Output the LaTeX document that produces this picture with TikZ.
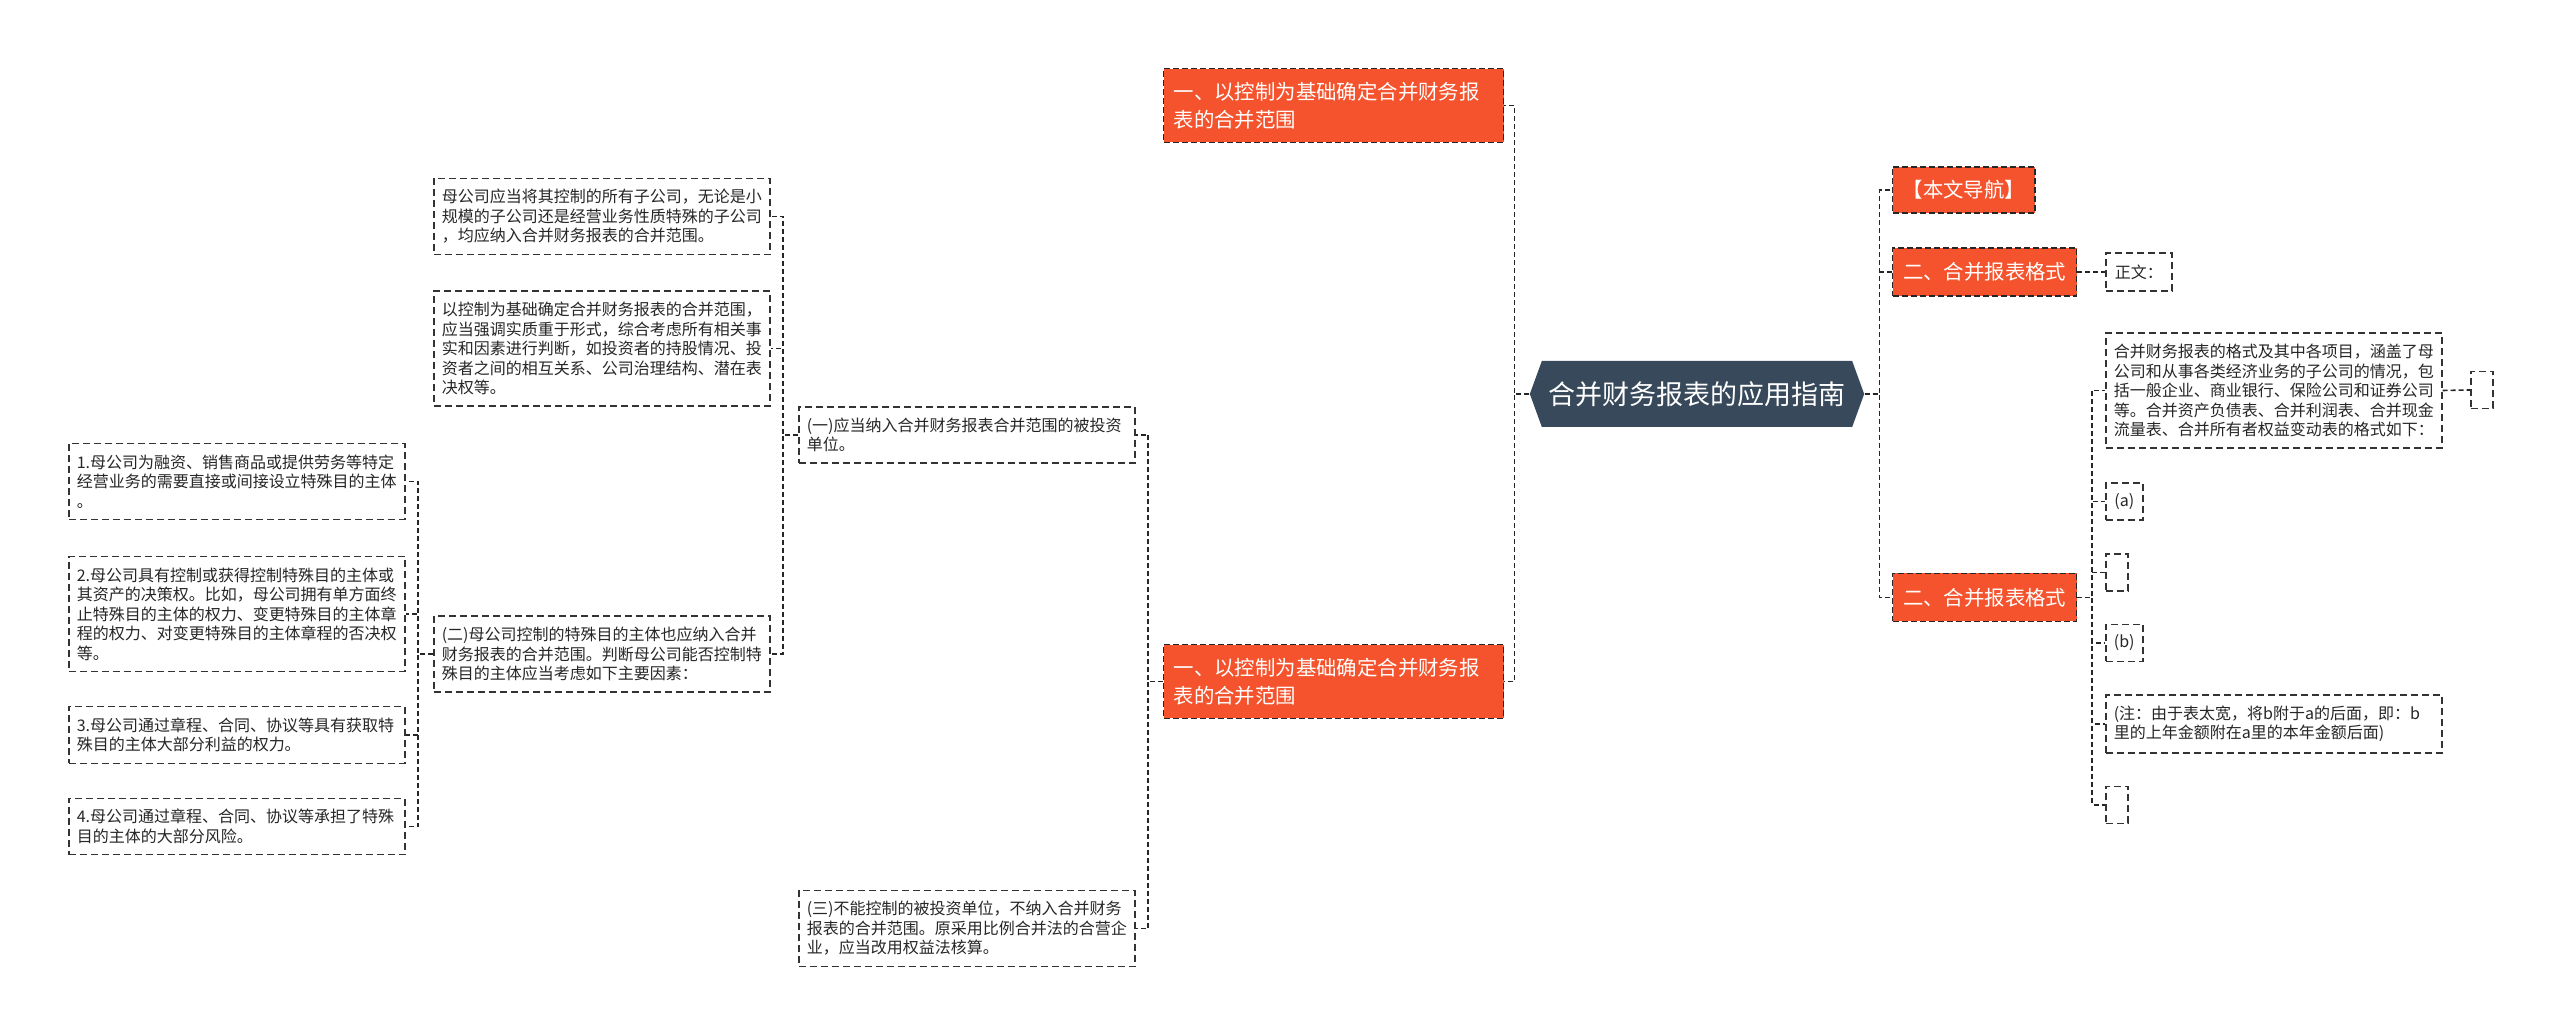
\documentclass[tikz,border=0pt]{standalone}
\usepackage{fontspec}
\setmainfont{Noto Sans CJK SC}
\usepackage{tikz}
\usetikzlibrary{shapes.symbols}

\definecolor{topic}{HTML}{F5532D}
\definecolor{rootblue}{HTML}{37495A}

\begin{document}
\begin{tikzpicture}[
  x=0.5pt, y=-0.5pt,
  link/.style={draw=black!85, line width=0.8pt, dash pattern=on 2.5pt off 1.5pt},
  cell/.style={draw=black!80, line width=0.75pt, dash pattern=on 3.5pt off 2pt,
    fill=white, anchor=west, text=black!85, font=\fontsize{8}{9.75}\selectfont},
  leaf/.style={cell, align=left, text width=160pt, inner xsep=4pt, inner ysep=5.5pt},
  tiny/.style={cell, minimum width=18.5pt, minimum height=18.5pt, inner sep=1pt},
  blank/.style={cell, minimum width=11pt, minimum height=18.5pt, inner sep=0pt},
  branch/.style={draw=black!85, line width=0.6pt, dash pattern=on 3pt off 1.5pt,
    fill=topic, text=white, anchor=west, align=left, inner xsep=5pt, inner ysep=6.6pt,
    font=\fontsize{10.2}{14}\selectfont},
  root/.style={signal, signal to=west and east, signal pointer angle=140,
    fill=rootblue, text=white, minimum width=164.5pt, minimum height=33pt,
    font=\fontsize{13.5}{16}\selectfont},
]
  \useasboundingbox (0,0) rectangle (2560,1036);

  \node[root] (root) at (1697,394) {合并财务报表的应用指南};

  % left side
  \node[branch, text width=160pt] (nav1) at (1163,105.5) {一、以控制为基础确定合并财务报\\表的合并范围};
  \node[branch, text width=160pt] (nav2) at (1163,681.5) {一、以控制为基础确定合并财务报\\表的合并范围};

  \node[leaf] (s1) at (798,435) {(一)应当纳入合并财务报表合并范围的被投资\\单位。};
  \node[leaf] (s3) at (798,928.5) {(三)不能控制的被投资单位，不纳入合并财务\\报表的合并范围。原采用比例合并法的合营企\\业，应当改用权益法核算。};

  \node[leaf] (c1) at (433,216.5) {母公司应当将其控制的所有子公司，无论是小\\规模的子公司还是经营业务性质特殊的子公司\\，均应纳入合并财务报表的合并范围。};
  \node[leaf] (c2) at (433,348.5) {以控制为基础确定合并财务报表的合并范围，\\应当强调实质重于形式，综合考虑所有相关事\\实和因素进行判断，如投资者的持股情况、投\\资者之间的相互关系、公司治理结构、潜在表\\决权等。};
  \node[leaf] (s2) at (433,654) {(二)母公司控制的特殊目的主体也应纳入合并\\财务报表的合并范围。判断母公司能否控制特\\殊目的主体应当考虑如下主要因素：};

  \node[leaf] (f1) at (68,481.5) {1.母公司为融资、销售商品或提供劳务等特定\\经营业务的需要直接或间接设立特殊目的主体\\。};
  \node[leaf] (f2) at (68,614) {2.母公司具有控制或获得控制特殊目的主体或\\其资产的决策权。比如，母公司拥有单方面终\\止特殊目的主体的权力、变更特殊目的主体章\\程的权力、对变更特殊目的主体章程的否决权\\等。};
  \node[leaf] (f3) at (68,735) {3.母公司通过章程、合同、协议等具有获取特\\殊目的主体大部分利益的权力。};
  \node[leaf] (f4) at (68,826.5) {4.母公司通过章程、合同、协议等承担了特殊\\目的主体的大部分风险。};

  % right side
  \node[branch, minimum width=71pt, minimum height=23pt] (r1) at (1892,190) {【本文导航】};
  \node[branch, minimum width=92pt, minimum height=24pt] (r2) at (1892,272) {二、合并报表格式};
  \node[branch, minimum width=92pt, minimum height=24pt] (r3) at (1892,597.5) {二、合并报表格式};

  \node[tiny, minimum width=33pt, minimum height=19pt] (zw) at (2105,272) {正文：};

  \node[leaf] (fmt) at (2105,390.5) {合并财务报表的格式及其中各项目，涵盖了母\\公司和从事各类经济业务的子公司的情况，包\\括一般企业、商业银行、保险公司和证券公司\\等。合并资产负债表、合并利润表、合并现金\\流量表、合并所有者权益变动表的格式如下：};
  \node[blank] (e0) at (2470,390) {};
  \node[tiny] (ta) at (2105,501.5) {(a)};
  \node[blank] (e1) at (2105,572.5) {};
  \node[tiny] (tb) at (2105,643) {(b)};
  \node[leaf] (note) at (2105,724) {(注：由于表太宽，将b附于a的后面，即：b\\里的上年金额附在a里的本年金额后面)};
  \node[blank] (e2) at (2105,805) {};

  % connectors
  \foreach \n in {nav1,nav2}
    \draw[link] (root.west) -- ++(-15,0) |- (\n.east);
  \foreach \n in {s1,s3}
    \draw[link] (nav2.west) -- ++(-15,0) |- (\n.east);
  \foreach \n in {c1,c2,s2}
    \draw[link] (s1.west) -- ++(-15,0) |- (\n.east);
  \foreach \n in {f1,f2,f3,f4}
    \draw[link] (s2.west) -- ++(-15,0) |- (\n.east);
  \foreach \n in {r1,r2,r3}
    \draw[link] (root.east) -- ++(15,0) |- (\n.west);
  \draw[link] (r2.east) -- (zw.west);
  \foreach \n in {fmt,ta,e1,tb,note,e2}
    \draw[link] (r3.east) -- ++(15,0) |- (\n.west);
  \draw[link] (fmt.east) -- (e0.west);
\end{tikzpicture}
\end{document}
